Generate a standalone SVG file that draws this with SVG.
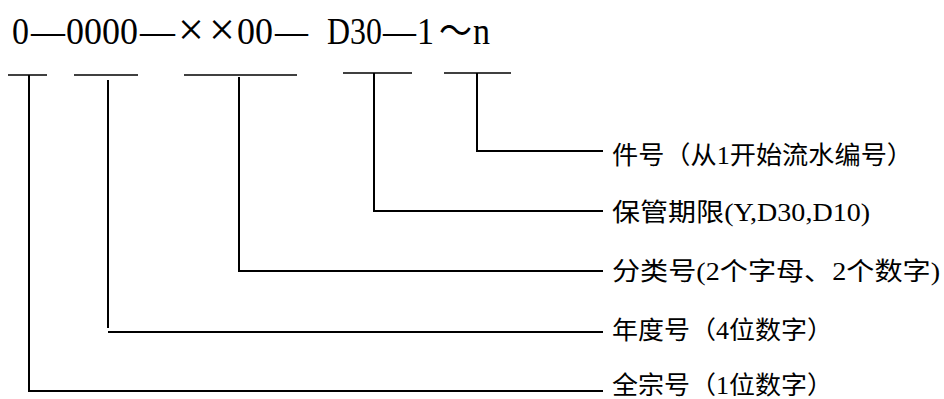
<svg xmlns="http://www.w3.org/2000/svg" width="944" height="399" viewBox="0 0 944 399">
<style>
.code{font-family:"Liberation Serif","Noto Sans CJK SC",serif;font-size:38px;fill:#000}
.cjk{font-family:"Noto Sans CJK SC",sans-serif;font-size:36px}
.lbl{font-family:"Liberation Serif","Noto Sans CJK SC",serif;font-size:25px;fill:#000}
.ul{stroke:#000;stroke-width:1.6;fill:none}
.cn{stroke:#000;stroke-width:2;fill:none}
</style>
<rect width="944" height="399" fill="#fff"/>
<g id="code">
<text class="code" y="44" lengthAdjust="spacingAndGlyphs"><tspan x="12" textLength="17" lengthAdjust="spacingAndGlyphs">0</tspan><tspan x="31" textLength="34" lengthAdjust="spacingAndGlyphs">—</tspan><tspan x="66" textLength="72" lengthAdjust="spacingAndGlyphs">0000</tspan><tspan x="140" textLength="35" lengthAdjust="spacingAndGlyphs">—</tspan><tspan x="237" textLength="36" lengthAdjust="spacingAndGlyphs">00</tspan><tspan x="275" textLength="33" lengthAdjust="spacingAndGlyphs">—</tspan><tspan x="327" textLength="55" lengthAdjust="spacingAndGlyphs">D30</tspan><tspan x="383" textLength="33" lengthAdjust="spacingAndGlyphs">—</tspan><tspan x="417" textLength="17" lengthAdjust="spacingAndGlyphs">1</tspan><tspan x="439" class="cjk" textLength="33" lengthAdjust="spacingAndGlyphs">～</tspan><tspan x="473" textLength="17" lengthAdjust="spacingAndGlyphs">n</tspan></text>
<text class="code" y="45" style="font-size:46px"><tspan x="178">×</tspan><tspan x="209">×</tspan></text>
</g>
<g id="connectors">
<line class="ul" x1="8" y1="75" x2="47" y2="75"/>
<line class="ul" x1="74" y1="75" x2="138" y2="75"/>
<line class="ul" x1="184" y1="75" x2="297" y2="75"/>
<line class="ul" x1="343" y1="73" x2="412" y2="73"/>
<line class="ul" x1="444" y1="73" x2="511" y2="73"/>
<polyline class="cn" points="477,73 477,151 603,151"/>
<polyline class="cn" points="374,73 374,211 603,211"/>
<polyline class="cn" points="239,77 239,271 603,271"/>
<polyline class="cn" points="108,80 108,328"/>
<line class="cn" x1="108" y1="332" x2="603" y2="332"/>
<polyline class="cn" points="29,75 29,391 603,391"/>
</g>
<g id="label-jianhao"><text class="lbl" x="612" y="164" textLength="301" lengthAdjust="spacingAndGlyphs">件号（从1开始流水编号）</text></g>
<g id="label-baoguan"><text class="lbl" x="612" y="221" textLength="258" lengthAdjust="spacingAndGlyphs">保管期限(Y,D30,D10)</text></g>
<g id="label-fenlei"><text class="lbl" x="612" y="280" textLength="328" lengthAdjust="spacingAndGlyphs">分类号(2个字母、2个数字)</text></g>
<g id="label-niandu"><text class="lbl" x="612" y="339" textLength="221" lengthAdjust="spacingAndGlyphs">年度号（4位数字）</text></g>
<g id="label-quanzong"><text class="lbl" x="612" y="394" textLength="221" lengthAdjust="spacingAndGlyphs">全宗号（1位数字）</text></g>
</svg>
